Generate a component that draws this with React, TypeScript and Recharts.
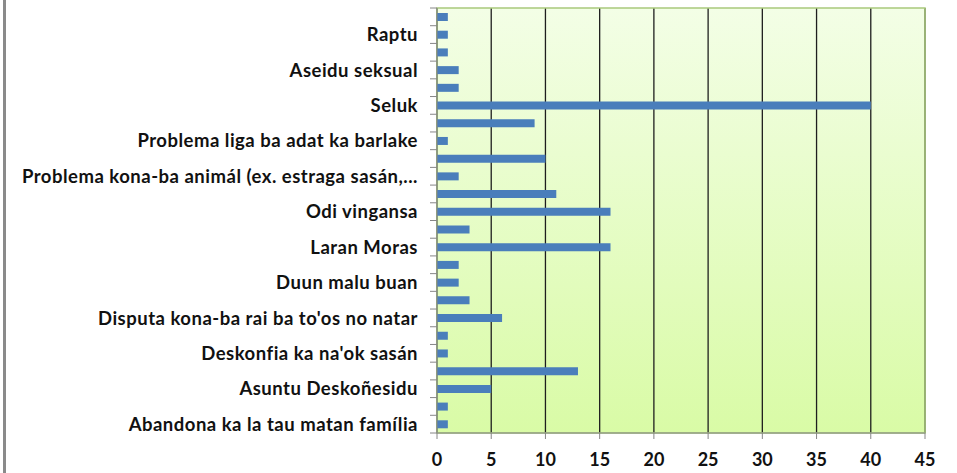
import { BarChart, Bar, XAxis, YAxis, CartesianGrid, ReferenceArea } from 'recharts';

// top to bottom; every second row carries no label in the source
const categories = [
  '', 'Raptu', '', 'Aseidu seksual', '', 'Seluk', '',
  'Problema liga ba adat ka barlake', '',
  'Problema kona-ba animál (ex. estraga sasán,...', '',
  'Odi vingansa', '', 'Laran Moras', '', 'Duun malu buan', '',
  "Disputa kona-ba rai ba to'os no natar", '',
  "Deskonfia ka na'ok sasán", '', 'Asuntu Deskoñesidu', '',
  'Abandona ka la tau matan família',
];
const counts = [1, 1, 1, 2, 2, 40, 9, 1, 10, 2, 11, 16, 3, 16, 2, 2, 3, 6, 1, 1, 13, 5, 1, 1];
const xTicks = [0, 5, 10, 15, 20, 25, 30, 35, 40, 45];

const data = categories.map((name, i) => ({ key: String(i), name, value: counts[i] }));

const W = 951;
const H = 473;
const TOP = 8;
const XAXIS_H = 40;
const STEP = (H - TOP - XAXIS_H) / categories.length;

const font = 'Lato, "Open Sans", sans-serif';

const CatTick = (props: any) => {
  const { x, y, payload, index } = props;
  const label = categories[Number(payload.value)] || '';
  const last = index === categories.length - 1;
  return (
    <g>
      <line x1={x + 12} x2={x + 19} y1={y - STEP / 2} y2={y - STEP / 2} stroke="#868686" />
      {last && <line x1={x + 12} x2={x + 19} y1={y + STEP / 2} y2={y + STEP / 2} stroke="#868686" />}
      {label && (
        <text x={x} y={y} dy="0.36em" textAnchor="end" fontFamily={font} fontWeight={700} fontSize={18.5}
          letterSpacing={0.5} fill="#111">
          {label}
        </text>
      )}
    </g>
  );
};

export default function App() {
  return (
    <div style={{ position: 'absolute', left: 3, top: 0, borderLeft: '3px solid #8a8a8a', height: H, background: '#fff' }}>
      <BarChart width={W} height={H} data={data} layout="vertical" margin={{ top: TOP, right: 32, bottom: 0, left: 0 }}>
        <defs>
          <linearGradient id="plotBg" x1="0" y1="0" x2="0" y2="1">
            <stop offset="0%" stopColor="#f3fee6" />
            <stop offset="100%" stopColor="#d9fba6" />
          </linearGradient>
        </defs>
        <CartesianGrid horizontal={false} stroke="#1e1e1e" strokeWidth={1.3} fill="url(#plotBg)" fillOpacity={1} />
        <XAxis
          type="number"
          domain={[0, 45]}
          ticks={xTicks}
          height={XAXIS_H}
          stroke="#868686"
          tickSize={6}
          tickMargin={14}
          tick={{ fontFamily: font, fontWeight: 700, fontSize: 18, fill: '#111' }}
        />
        <YAxis
          type="category"
          dataKey="key"
          width={431}
          interval={0}
          stroke="#868686"
          tickLine={false}
          tickSize={0}
          tickMargin={19}
          tick={<CatTick />}
        />
        <ReferenceArea x1={0} x2={45} fill="none" stroke="#a9c97c" strokeWidth={1.5} ifOverflow="visible" />
        <Bar dataKey="value" fill="#4a7ebb" barSize={8} isAnimationActive={false} />
      </BarChart>
    </div>
  );
}
